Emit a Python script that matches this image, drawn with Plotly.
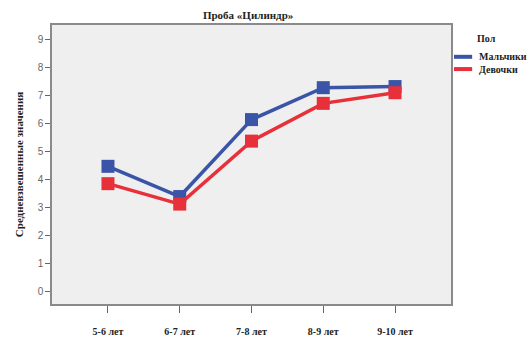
import plotly.graph_objects as go

categories = ["5-6 лет", "6-7 лет", "7-8 лет", "8-9 лет", "9-10 лет"]
boys = [4.48, 3.40, 6.15, 7.29, 7.33]
girls = [3.86, 3.13, 5.38, 6.73, 7.11]
series_names = ["Мальчики", "Девочки"]
legend_title = "Пол"
y_ticks = list(range(0, 10))

serif = "Liberation Serif, Times New Roman, serif"
sans = "Liberation Sans, Arial, sans-serif"
colors = ["#3a55a8", "#e8303a"]

fig = go.Figure()
for name, vals, col in zip(series_names, [boys, girls], colors):
    fig.add_trace(go.Scatter(x=list(range(len(categories))), y=vals, name=name,
                             mode="lines+markers", showlegend=False,
                             line=dict(color=col, width=3.5),
                             marker=dict(symbol="square", size=13, color=col)))

# legend drawn beside the plot (compact, like the original)
fig.add_annotation(text="<b>%s</b>" % legend_title, xref="paper", yref="paper",
                   x=1.060, y=0.953, xanchor="left", yanchor="middle", showarrow=False,
                   font=dict(family=serif, size=10, color="#222"))
leg_y = [0.886, 0.842]
for name, col, yy in zip(series_names, colors, leg_y):
    fig.add_shape(type="line", xref="paper", yref="paper", x0=1.0075, x1=1.053, y0=yy, y1=yy,
                  line=dict(color=col, width=4))
    fig.add_annotation(text="<b>%s</b>" % name, xref="paper", yref="paper",
                       x=1.066, y=yy, xanchor="left", yanchor="middle", showarrow=False,
                       font=dict(family=serif, size=10, color="#222"))

fig.update_layout(
    width=529, height=338,
    margin=dict(l=52, r=78, t=25, b=34, autoexpand=False),
    paper_bgcolor="white", plot_bgcolor="#efefef",
    title=dict(text="<b>Проба «Цилиндр»</b>", x=0.469, xanchor="center", y=0.956, yanchor="middle",
               font=dict(family=serif, size=11, color="#222")),
    showlegend=False,
    xaxis=dict(range=[-0.78, 4.78], tickmode="array", tickvals=list(range(len(categories))),
               ticktext=["<b>%s</b>" % c for c in categories],
               showgrid=False, zeroline=False, showline=True, linecolor="#8a8a8a", linewidth=1.5,
               mirror=True, ticks="outside", ticklen=7, tickcolor="#666", ticklabelstandoff=10,
               automargin=False,
               tickfont=dict(family=serif, size=10, color="#222")),
    yaxis=dict(range=[-0.44, 9.53], tickmode="array", tickvals=y_ticks,
               showgrid=False, zeroline=False, showline=True, linecolor="#8a8a8a", linewidth=1.5,
               mirror=True, ticks="outside", ticklen=5, tickcolor="#666", automargin=False,
               tickfont=dict(family=sans, size=10, color="#666"),
               title=dict(text="<b>Средневзвешенные значения</b>", standoff=12,
                          font=dict(family=serif, size=11, color="#222"))),
)

fig.write_html("out.html", config={"displayModeBar": False},
               post_script="document.body.style.margin='0';document.body.style.overflow='hidden';")
